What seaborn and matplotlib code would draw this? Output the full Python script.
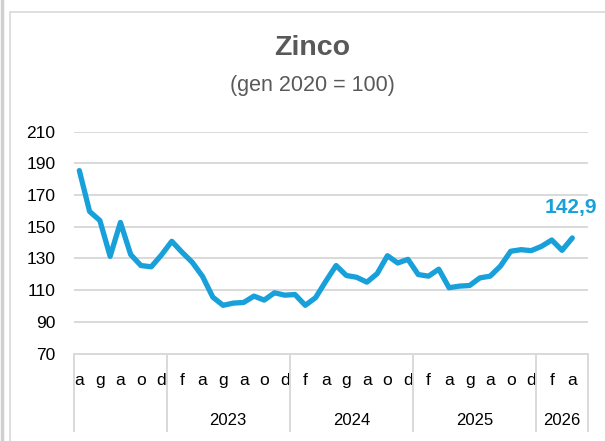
import matplotlib
matplotlib.use("Agg")
import matplotlib.pyplot as plt
from matplotlib import font_manager
from matplotlib.lines import Line2D
import seaborn as sns
import pandas as pd
import numpy as np

# ---- data ----
title = "Zinco"
subtitle = "(gen 2020 = 100)"
month_initials = ["g", "f", "m", "a", "m", "g", "l", "a", "s", "o", "n", "d"]
first_month = "2022-04"
last_category = "2026-05"
values = [185.4, 159.6, 153.9, 131.3, 152.7, 132.4, 125.5, 124.7, 132.2, 140.8,
          133.9, 127.5, 118.6, 105.5, 100.4, 101.8, 102.2, 106.2, 103.7, 108.3,
          106.8, 107.2, 100.4, 105.2, 115.6, 125.5, 119.2, 118.1, 115.0, 120.4,
          131.7, 127.1, 129.4, 119.8, 118.8, 123.2, 111.5, 112.5, 112.9, 117.7,
          118.8, 125.1, 134.5, 135.5, 134.9, 137.6, 141.6, 135.1, 142.9]
last_label = "142,9"
hidden_year_labels = [2022]
y_ticks = [70, 90, 110, 130, 150, 170, 190, 210]

LINE = "#17A0D9"
GRID = "#D9D9D9"
TXT = "#595959"

sns.set_style("white")


def pick(fams):
    for f in fams:
        try:
            font_manager.findfont(font_manager.FontProperties(family=f), fallback_to_default=False)
            return f
        except Exception:
            continue
    return "DejaVu Sans"


FONT = pick(["Liberation Sans Narrow", "Liberation Sans", "Arial"])
plt.rcParams["font.family"] = [FONT, "DejaVu Sans"]

cats = pd.period_range(first_month, last_category, freq="M")
n = len(cats)
df = pd.DataFrame({"pos": np.arange(len(values)), "val": values})

W, H = 605, 441
fig = plt.figure(figsize=(W / 100, H / 100), dpi=100)
ax = fig.add_axes([74.2 / W, 1 - 353.5 / H, (587.7 - 74.2) / W, (353.5 - 131.6) / H])

sns.lineplot(data=df, x="pos", y="val", ax=ax, color=LINE, linewidth=3.8)
for l in ax.lines:
    l.set_solid_joinstyle("round")
    l.set_solid_capstyle("round")

ax.set_xlim(-0.5, n - 0.5)
ax.set_ylim(y_ticks[0], y_ticks[-1])
ax.set_yticks(y_ticks)
ax.set_yticklabels([str(v) for v in y_ticks], fontsize=12.5, color="black")
ax.tick_params(axis="y", length=0, pad=13.5)
ax.grid(axis="y", color=GRID, linewidth=1.4)
ax.grid(axis="x", visible=False)
for s in ["top", "right", "left"]:
    ax.spines[s].set_visible(False)
ax.spines["bottom"].set_color(GRID)
ax.spines["bottom"].set_linewidth(1.4)
ax.set_xlabel("")
ax.set_ylabel("")

# month labels every other category
ax.set_xticks(range(0, n, 2))
ax.set_xticklabels([month_initials[cats[i].month - 1] for i in range(0, n, 2)],
                   fontsize=12.5, color="black")
ax.tick_params(axis="x", length=0, pad=14)

# year groups
trans = ax.get_xaxis_transform()
years = sorted(set(p.year for p in cats))
bounds = [-0.5]
for y in years:
    idx = [i for i, p in enumerate(cats) if p.year == y]
    lo, hi = idx[0] - 0.5, idx[-1] + 0.5
    bounds.append(hi)
    if y not in hidden_year_labels:
        ax.text((lo + hi) / 2, -(425 - 353.5) / (353.5 - 131.6), str(y), transform=trans,
                ha="center", va="baseline", fontsize=12, color="black")
ax.vlines(sorted(set(bounds)), -(432 - 353.5) / (353.5 - 131.6), 0, transform=trans,
          colors=GRID, linewidth=1.4, clip_on=False)

# last value label
ax.annotate(last_label, xy=(len(values) - 1, values[-1]), xytext=(-1, 22),
            textcoords="offset points", ha="center", va="center",
            fontsize=15, fontweight="bold", color=LINE)

# titles
fig.text(312 / W, 1 - 48 / H, title, ha="center", va="center", fontsize=20.5,
         fontweight="bold", color=TXT)
fig.text(312 / W, 1 - 85 / H, subtitle, ha="center", va="center", fontsize=15.5,
         color=TXT)

# chart frame
fig.add_artist(Line2D([10 / W, 1], [1 - 12 / H, 1 - 12 / H], color=GRID, linewidth=1.2))
fig.add_artist(Line2D([10 / W, 10 / W], [0, 1 - 12 / H], color=GRID, linewidth=1.2))
fig.add_artist(Line2D([2 / W, 2 / W], [0, 1], color="#CFCFCF", linewidth=2.5))

fig.savefig("out.png", dpi=100)
